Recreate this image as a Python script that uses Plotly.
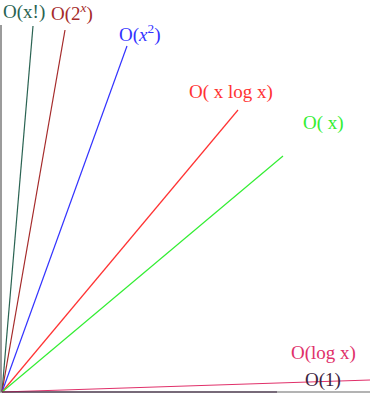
import plotly.graph_objects as go

# Growth-rate curves drawn as straight rays from the origin
names = ["O(x!)", "O(2^x)", "O(x^2)", "O(x log x)", "O(x)", "O(log x)", "O(1)"]
labels = ["O(x!)", "O(2<sup><i>x</i></sup>)", "O(<i>x</i><sup>2</sup>)",
          "O( x log x)", "O( x)", "O(log x)", "O(1)"]
end_x = [31, 63, 125, 236, 281, 368, 275]
end_y = [366, 362, 346, 282, 236, 12, 0]
label_x = [22, 70, 137, 229, 321, 321, 321]
label_y = [380, 380, 359, 300, 269, 39, 12]
colors = ["#2a6352", "#a52a2a", "#3333ff", "#ff3333", "#33ee33", "#e0306a", "#3c2340"]

fig = go.Figure()

# axes
fig.add_trace(go.Scatter(x=[-1, -1], y=[0, 367], mode="lines",
                         line=dict(color="#7a7a7a", width=1.5), hoverinfo="skip"))
fig.add_trace(go.Scatter(x=[-2, 368], y=[0, 0], mode="lines",
                         line=dict(color="#9a9a9a", width=1.5), hoverinfo="skip"))

for n, ex, ey, c in zip(names, end_x, end_y, colors):
    fig.add_trace(go.Scatter(x=[0, ex], y=[0, ey], mode="lines", name=n,
                             line=dict(color=c, width=1.2)))

for lab, lx, ly, c in zip(labels, label_x, label_y, colors):
    fig.add_annotation(x=lx, y=ly, text=lab, showarrow=False,
                       font=dict(family="Liberation Serif", size=19, color=c),
                       xanchor="center", yanchor="middle")

fig.update_layout(
    width=370, height=394,
    margin=dict(l=0, r=0, t=0, b=0),
    paper_bgcolor="white", plot_bgcolor="white",
    showlegend=False,
    xaxis=dict(range=[-2, 368], visible=False, fixedrange=True),
    yaxis=dict(range=[-2, 392], visible=False, fixedrange=True),
)

fig.write_html("out.html", config={"displayModeBar": False},
               post_script="document.body.style.margin='0';document.body.style.overflow='hidden';")
